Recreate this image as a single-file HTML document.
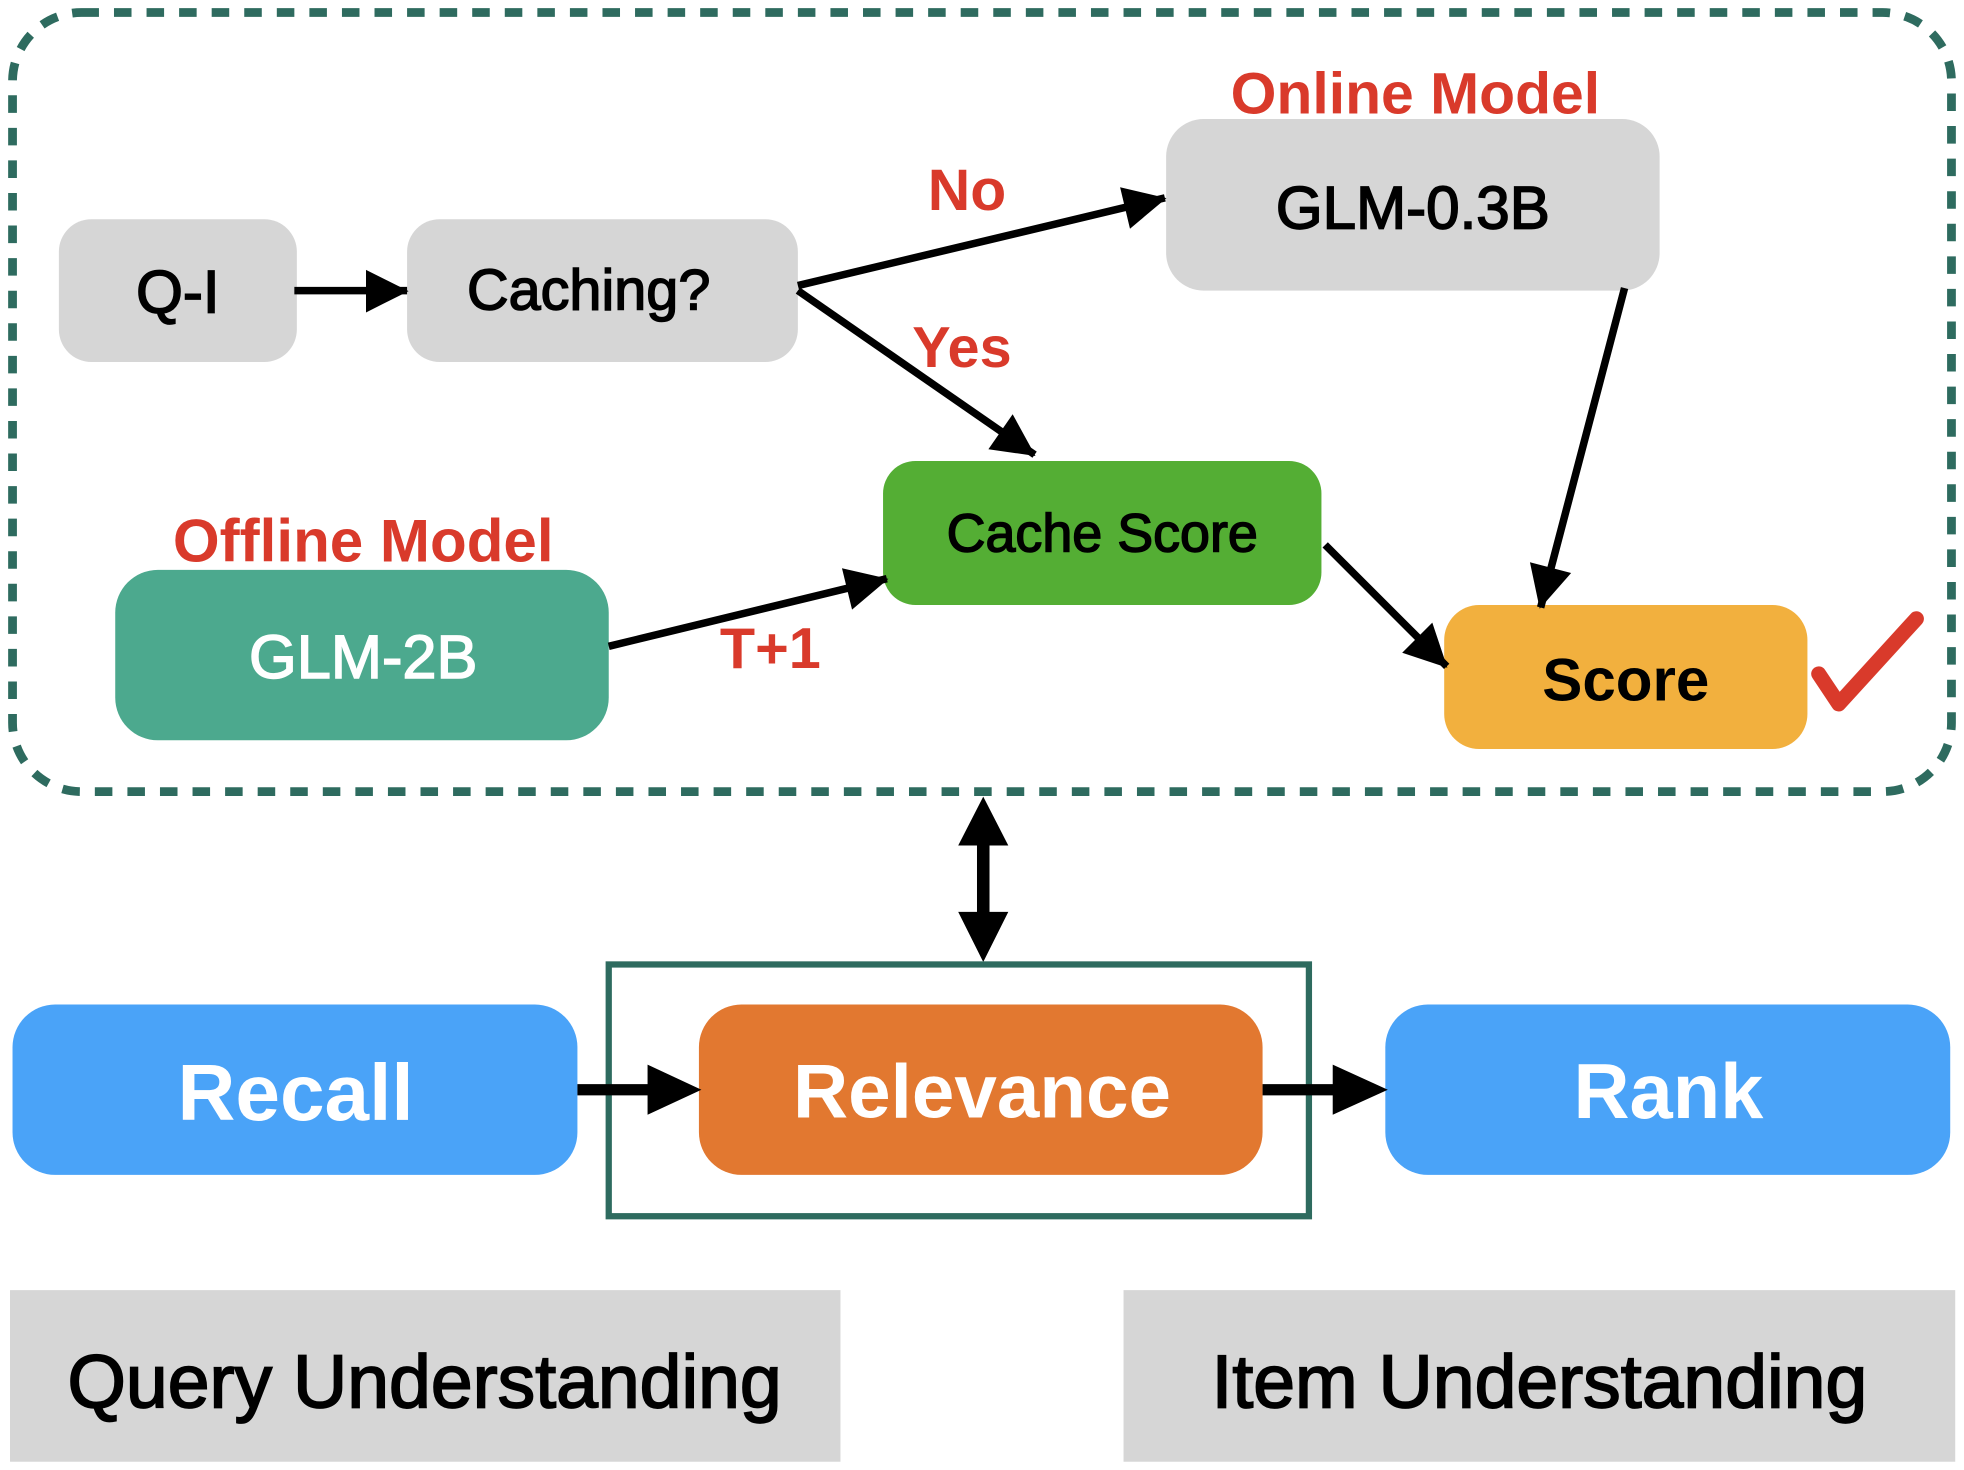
<!DOCTYPE html>
<html><head><meta charset="utf-8"><style>
html,body{margin:0;padding:0;background:#fff;}
svg{display:block;}
text{font-family:"Liberation Sans",Arial,sans-serif;text-anchor:middle;dominant-baseline:central;}
</style></head><body>
<svg width="1964" height="1470" viewBox="0 0 1568 1173.6" preserveAspectRatio="none" xmlns="http://www.w3.org/2000/svg">
<defs>
<marker id="ah" markerWidth="10" markerHeight="10" refX="9" refY="5" orient="auto" markerUnits="userSpaceOnUse" viewBox="0 0 10 10" style="overflow:visible">
<path d="M0,0 L10,5 L0,10 Z" fill="#000" transform="scale(3.4) translate(-7,-3.4)"/>
</marker>
</defs>
<rect x="10" y="10" width="1548" height="622" rx="55" fill="none" stroke="#2e6b5f" stroke-width="7" stroke-dasharray="14 12"/>

<rect x="47" y="175" width="190" height="114" rx="26" fill="#d6d6d6"/>
<text x="142" y="233" font-size="48" stroke="#000" stroke-width="1.3">Q-I</text>
<rect x="325" y="175" width="312" height="114" rx="26" fill="#d6d6d6"/>
<text x="470" y="232" font-size="46" stroke="#000" stroke-width="1.2">Caching?</text>
<rect x="931" y="95" width="394" height="137" rx="30" fill="#d6d6d6"/>
<text x="1128" y="166" font-size="48" stroke="#000" stroke-width="1.3">GLM-0.3B</text>
<text x="1130" y="75" font-size="47" font-weight="bold" fill="#d93a2b">Online Model</text>
<text x="772" y="152" font-size="47" font-weight="bold" fill="#d93a2b">No</text>
<text x="768" y="278" font-size="46" font-weight="bold" fill="#d93a2b">Yes</text>

<rect x="705" y="368" width="350" height="115" rx="26" fill="#54ae34"/>
<text x="880" y="426" font-size="43" stroke="#000" stroke-width="1.2">Cache Score</text>
<text x="290" y="432" font-size="48" font-weight="bold" fill="#d93a2b">Offline Model</text>
<rect x="92" y="455" width="394" height="136" rx="34" fill="#4ca98e"/>
<text x="290" y="525" font-size="49" fill="#fff" stroke="#fff" stroke-width="1.2">GLM-2B</text>
<text x="615" y="518" font-size="46" font-weight="bold" fill="#d93a2b">T+1</text>

<rect x="1153" y="483" width="290" height="115" rx="28" fill="#f2b03e"/>
<text x="1298" y="543" font-size="48" font-weight="bold">Score</text>
<path d="M1452,538 L1468,562 L1530,494" fill="none" stroke="#d93a2b" stroke-width="12" stroke-linecap="round" stroke-linejoin="round"/>

<g stroke="#000" stroke-width="6" fill="none">
<line x1="235" y1="232" x2="325" y2="232" marker-end="url(#ah)"/>
<line x1="637" y1="228" x2="930" y2="158" marker-end="url(#ah)"/>
<line x1="637" y1="232" x2="826" y2="363" marker-end="url(#ah)"/>
<line x1="486" y1="516" x2="708" y2="462" marker-end="url(#ah)"/>
<line x1="1058" y1="435" x2="1155" y2="532" marker-end="url(#ah)"/>
<line x1="1297" y1="230" x2="1230" y2="485" marker-end="url(#ah)"/>
</g>

<line x1="785" y1="668" x2="785" y2="735" stroke="#000" stroke-width="10"/>
<path d="M765,675 L785,636 L805,675 Z M765,728 L785,768 L805,728 Z" fill="#000"/>

<rect x="486" y="770" width="559" height="201" fill="none" stroke="#2e6b5f" stroke-width="5"/>
<rect x="10" y="802" width="451" height="136" rx="34" fill="#4aa3f8"/>
<text x="236" y="872" font-size="64" font-weight="bold" fill="#fff">Recall</text>
<rect x="558" y="802" width="450" height="136" rx="34" fill="#e27830"/>
<text x="784" y="872" font-size="61" font-weight="bold" fill="#fff">Relevance</text>
<rect x="1106" y="802" width="451" height="136" rx="34" fill="#4aa3f8"/>
<text x="1332" y="872" font-size="62" font-weight="bold" fill="#fff">Rank</text>
<line x1="461" y1="870" x2="525" y2="870" stroke="#000" stroke-width="9"/>
<path d="M517,850 L560,870 L517,890 Z" fill="#000"/>
<line x1="1008" y1="870" x2="1072" y2="870" stroke="#000" stroke-width="9"/>
<path d="M1064,850 L1108,870 L1064,890 Z" fill="#000"/>

<rect x="8" y="1030" width="663" height="137" fill="#d6d6d6"/>
<text x="339" y="1103" font-size="60" stroke="#000" stroke-width="1.4">Query Understanding</text>
<rect x="897" y="1030" width="664" height="137" fill="#d6d6d6"/>
<text x="1229" y="1103" font-size="60" stroke="#000" stroke-width="1.4">Item Understanding</text>
</svg>
</body></html>
